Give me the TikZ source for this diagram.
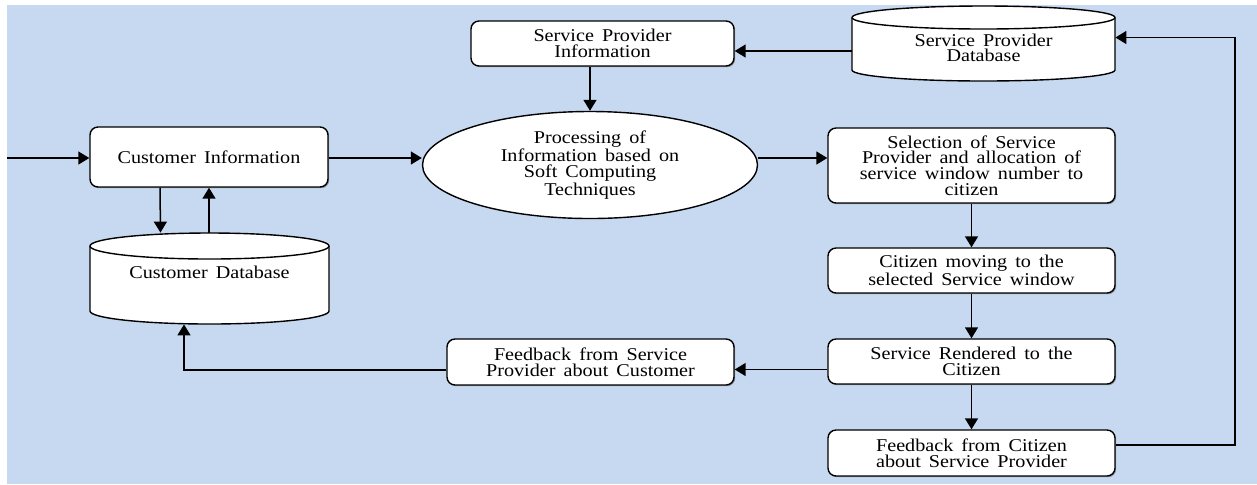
\documentclass[tikz,border=0pt]{standalone}
\usepackage{fontspec}
\setmainfont{Liberation Serif}[FakeStretch=1.12,WordSpace=1.6]
\usetikzlibrary{arrows.meta,shapes.geometric,shadows}
\definecolor{bg}{RGB}{198,217,240}
\tikzset{
  txt/.style={font=\fontsize{9pt}{7.8pt}\selectfont, align=center, text=black},
  box/.style={txt, draw, fill=white, rounded corners=4pt, line width=0.7pt, inner sep=0pt,
    drop shadow={shadow xshift=0.6pt, shadow yshift=-0.6pt, fill=black!55, opacity=0.7}},
  oval/.style={txt, ellipse, draw, fill=white, line width=0.7pt, inner sep=0pt},
  holder/.style={inner sep=0pt, draw=none},
  arr/.style={line width=0.75pt, -{Triangle[length=5.5pt,width=6.5pt]}},
  cyl/.style={draw, fill=white, line width=0.7pt}
}
\begin{document}
\begin{tikzpicture}[x=0.5pt,y=-0.5pt]
\useasboundingbox (0,0) rectangle (1257,484);
\fill[white] (0,0) rectangle (1257,484);
\fill[bg] (7,5) rectangle (1257,484);

% Cylinders (drawn shapes)
\filldraw[cyl] (90,246) -- (90,311) arc[start angle=180,end angle=360,x radius=59.75pt,y radius=6.5pt]
  -- (329,246) arc[start angle=0,end angle=180,x radius=59.75pt,y radius=6.5pt] -- cycle;
\draw[line width=0.7pt] (90,246) arc[start angle=180,end angle=360,x radius=59.75pt,y radius=6.5pt];
\filldraw[cyl] (852,17.5) -- (852,70) arc[start angle=180,end angle=360,x radius=65.75pt,y radius=5.5pt]
  -- (1115,17.5) arc[start angle=0,end angle=180,x radius=65.75pt,y radius=5.75pt] -- cycle;
\draw[line width=0.7pt] (852,17.5) arc[start angle=180,end angle=360,x radius=65.75pt,y radius=5.75pt];

\node[holder, minimum width=119.5pt, minimum height=45.5pt] (cdb) at (209.5,278.5) {};
\node[txt] (cdbtext) at (209.5,272) {Customer Database};
\node[holder, minimum width=131.5pt, minimum height=37.5pt] (spd) at (983.5,43.5) {};
\node[txt] (spdtext) at (983.5,48) {Service Provider\\Database};

% Boxes
\node[box, minimum width=119pt, minimum height=30pt] (ci) at (209,157) {Customer Information};
\node[box, minimum width=131.5pt, minimum height=22.5pt] (spi) at (602.5,43.5) {Service Provider\\Information};
\node[oval, minimum width=167.5pt, minimum height=53.5pt] (ell) at (590,165) {Processing of\\Information based on\\Soft Computing\\Techniques};
\node[box, minimum width=143.5pt, minimum height=37.5pt] (sel) at (971.5,165.5) {Selection of Service\\Provider and allocation of\\service window number to\\citizen};
\node[box, minimum width=143.5pt, minimum height=22.5pt] (cm) at (971.5,270.5) {Citizen moving to the\\selected Service window};
\node[box, minimum width=143.5pt, minimum height=22.5pt] (sr) at (971.5,361.5) {Service Rendered to the\\Citizen};
\node[box, minimum width=143.5pt, minimum height=23pt] (fc) at (971.5,453) {Feedback from Citizen\\about Service Provider};
\node[box, minimum width=143.5pt, minimum height=23pt] (fsp) at (590.5,362) {Feedback from Service\\Provider about Customer};

\coordinate (in) at (7,158);
\coordinate (loopA) at (1235,445);
\coordinate (loopB) at (1235,37.5);

% Connectors
\draw[arr] (in) -- (in -| ci.west);
\draw[arr] ([yshift=-0.5pt]ci.east) -- ([yshift=-0.5pt]ci.east -| ell.west);
\draw[arr] ([yshift=-0.5pt]ci.east -| ell.east) -- ([yshift=-0.5pt]ci.east -| sel.west);
\draw[arr] (spi.south -| ell.north) -- (ell.north);
\draw[arr] ([yshift=-3.75pt]spd.west) -- ([yshift=-3.75pt]spd.west -| spi.east);
\draw[arr] ([xshift=-24.5pt]ci.south) -- ([xshift=-24.5pt]cdb.north);
\draw[arr] (cdb.north -| ci.south) -- (ci.south);
\draw[arr] (sel.south) -- (cm.north);
\draw[arr] (cm.south) -- (sr.north);
\draw[arr] (sr.south) -- (fc.north);
\draw[arr] ([yshift=-4pt]sr.west) -- ([yshift=-4pt]sr.west -| fsp.east);
\draw[arr] ([yshift=-4pt]fsp.west) -| ([xshift=-12.75pt]cdb.south);
\draw[arr] (fc.east |- loopA) -- (loopA) -- (loopB) -- (loopB -| spd.east);
\end{tikzpicture}
\end{document}
